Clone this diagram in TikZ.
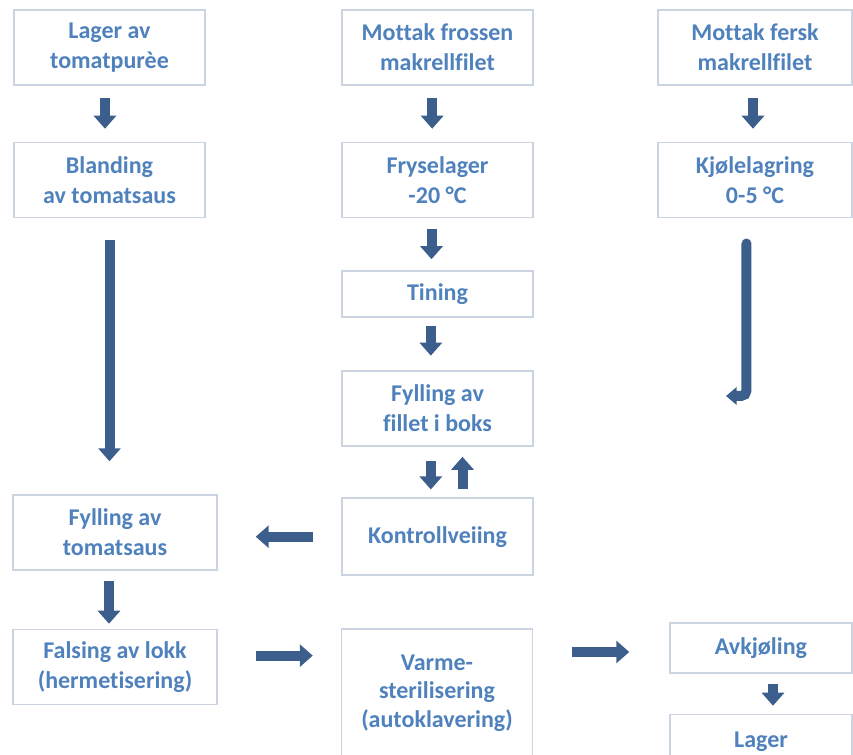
\documentclass[tikz,border=0pt]{standalone}
\usepackage{fontspec}
\setmainfont{Carlito}[Ligatures=NoCommon]
\usetikzlibrary{positioning, arrows.meta}
\definecolor{tekstblaa}{RGB}{79,129,189}
\definecolor{pilblaa}{RGB}{59,94,140}
\definecolor{rammegraa}{RGB}{205,212,225}
\tikzstyle{boks} = [rectangle, minimum width=143.25pt, minimum height=56.25pt, text centered, align=center, draw=rammegraa, line width=1.1pt, fill=white, text=tekstblaa, font=\fontsize{18}{22.5}\selectfont\bfseries]
\tikzstyle{bredboks} = [boks, minimum width=153pt]
\tikzstyle{pil} = [draw=pilblaa, line width=7.5pt, -{Triangle[width=16.5pt,length=9.75pt]}]
\tikzstyle{jpil} = [draw=pilblaa, line width=7.5pt, line cap=round, rounded corners=4pt, -{Triangle[width=13pt,length=8pt]}]

\begin{document}
\begin{tikzpicture}[x=0.75pt, y=-0.75pt]
           \useasboundingbox (0,0) rectangle (853,755);
           % venstre kolonne
           \node (lager) [boks] at (109.5,47.5) {Lager av\\tomatpurèe};
           \node (blanding) [boks, below=42pt of lager] {Blanding\\av tomatsaus};
           \node (fyllts) [bredboks] at (115,532.5) {Fylling av\\tomatsaus};
           \node (falsing) [bredboks, below=43.5pt of fyllts] {Falsing av lokk\\(hermetisering)};
           % midtre kolonne
           \node (mottakfr) [boks] at (437.5,47.5) {Mottak frossen\\makrellfilet};
           \node (fryse) [boks, below=42pt of mottakfr] {Fryselager\\-20 °C};
           \node (tining) [boks, minimum height=34.5pt, below=39pt of fryse] {Tining};
           \node (fyllfilet) [boks, below=39.5pt of tining] {Fylling av\\fillet i boks};
           \node (kontroll) [boks, minimum height=57.75pt, below=38pt of fyllfilet] {Kontrollveiing};
           \node (varme) [boks, minimum height=96pt, font=\fontsize{18}{21.4}\selectfont\bfseries] at (437,693) {Varme-\\sterilisering\\(autoklavering)};
           % hoyre kolonne
           \node (mottakfe) [boks, minimum width=145.5pt] at (755,47.5) {Mottak fersk\\makrellfilet};
           \node (kjole) [boks, minimum width=145.5pt, below=42pt of mottakfe] {Kjølelagring\\0-5 °C};
           \node (avkj) [boks, minimum width=136.5pt, minimum height=37.5pt] at (761,648) {Avkjøling};
           \node (lagerut) [boks, minimum width=136.5pt, minimum height=40.5pt, below=30pt of avkj] {Lager};
           \coordinate (jslutt) at (726,396);

           \draw [pil, shorten <=9pt, shorten >=9.75pt] ([xshift=-3.4pt]lager.south) -- ([xshift=-3.4pt]blanding.north);
           \draw [pil, shorten <=16.5pt, shorten >=24.75pt] (blanding.south) -- (blanding.south |- fyllts.north);
           \draw [pil, shorten <=7.5pt, shorten >=3.75pt] ([xshift=-4.5pt]fyllts.south) -- ([xshift=-4.5pt]falsing.north);
           \draw [pil, shorten <=9pt, shorten >=9.75pt] ([xshift=-4pt]mottakfr.south) -- ([xshift=-4pt]fryse.north);
           \draw [pil, shorten <=8.25pt, shorten >=8.25pt] ([xshift=-4.5pt]fryse.south) -- ([xshift=-4.5pt]tining.north);
           \draw [pil, shorten <=6pt, shorten >=11pt] ([xshift=-5pt]tining.south) -- ([xshift=-5pt]fyllfilet.north);
           \draw [pil, shorten <=11pt, shorten >=6pt] ([xshift=-5pt]fyllfilet.south) -- ([xshift=-5pt]kontroll.north);
           \draw [pil, shorten <=6pt, shorten >=7.5pt] ([xshift=18.75pt]kontroll.north) -- ([xshift=18.75pt]fyllfilet.south);
           \draw [pil, shorten <=21pt, shorten >=28.5pt] (kontroll.west) -- (kontroll.west -| fyllts.east);
           \draw [pil, shorten <=29pt, shorten >=21pt] ([yshift=8.5pt]falsing.east) -- ([yshift=8.5pt]falsing.east -| varme.west);
           \draw [pil, shorten <=29pt, shorten >=30pt] ([yshift=-3pt]varme.east |- avkj.west) -- ([yshift=-3pt]avkj.west);
           \draw [pil, shorten <=8pt, shorten >=6pt] ([xshift=9pt]avkj.south) -- ([xshift=9pt]lagerut.north);
           \draw [pil, shorten <=9pt, shorten >=9.75pt] ([xshift=-1.5pt]mottakfe.south) -- ([xshift=-1.5pt]kjole.north);
           \draw [jpil, shorten <=19pt] ([xshift=-6.4pt]kjole.south) |- (jslutt);
        \end{tikzpicture}
\end{document}
